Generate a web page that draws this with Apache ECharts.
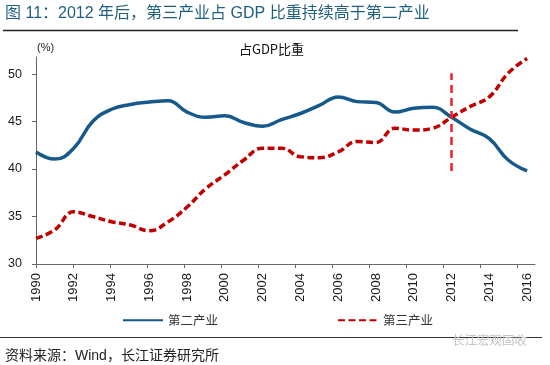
<!DOCTYPE html>
<html>
<head>
<meta charset="utf-8">
<script src="https://cdn.jsdelivr.net/npm/echarts@6/dist/echarts.min.js"></script>
<style>
html,body{margin:0;padding:0;background:#fff;}
#chart{width:550px;height:365px;}
</style>
</head>
<body>
<div id="chart"></div>
<script>
// ---- data ----
var years = [1990,1991,1992,1993,1994,1995,1996,1997,1998,1999,2000,2001,2002,2003,2004,2005,2006,2007,2008,2009,2010,2011,2012,2013,2014,2015,2016];
var secondary = [41.8,41.05,42.2,45.0,46.3,46.8,47.05,47.2,46.0,45.45,45.6,44.9,44.5,45.2,45.85,46.7,47.6,47.1,47.0,46.0,46.4,46.5,45.45,44.2,43.2,40.95,39.8];
var tertiary  = [32.7,33.6,35.5,35.0,34.45,34.1,33.5,34.45,36.0,37.95,39.4,40.95,42.2,42.2,41.3,41.2,41.8,42.9,42.8,44.3,44.1,44.3,45.45,46.6,47.6,50.1,51.65];
var xTickLabels = [1990,1992,1994,1996,1998,2000,2002,2004,2006,2008,2010,2012,2014,2016];
var yTickLabels = [30,35,40,45,50];
var seriesNames = ['第二产业','第三产业'];
var markYear = 2012;
var markRange = [39.8, 50.1];

function pairs(xs, ys){ return xs.map(function(x,i){ return [x, ys[i]]; }); }

var chart = echarts.init(document.getElementById('chart'));
var latin = '"Liberation Sans", Arial, "Noto Sans CJK SC", sans-serif';
var cjk = '"Noto Sans CJK SC", "Liberation Sans", sans-serif';

chart.setOption({
  animation: false,
  backgroundColor: '#fff',
  grid: { left: 36, right: 15, top: 57, bottom: 101, containLabel: false },
  xAxis: [
    {
      type: 'value', min: 1990, max: 2016.42, position: 'bottom',
      axisLine: { show: false }, axisTick: { show: false }, splitLine: { show: false },
      axisLabel: {
        customValues: xTickLabels, rotate: 90, margin: 9,
        color: '#1a1a1a', fontSize: 13, fontFamily: latin,
        formatter: function(v){ return String(v); }
      }
    },
    {
      type: 'value', min: 1990, max: 2016.956, position: 'bottom',
      axisLine: { show: true, onZero: false, lineStyle: { color: '#666', width: 1 } },
      axisTick: { show: true, customValues: xTickLabels, length: 4, lineStyle: { color: '#666' } },
      axisLabel: { show: false }, splitLine: { show: false }
    }
  ],
  yAxis: {
    type: 'value', min: 30, max: 51.8,
    axisLine: { show: true, lineStyle: { color: '#666', width: 1 } },
    axisTick: { show: true, customValues: yTickLabels, length: 4, lineStyle: { color: '#666' } },
    axisLabel: { customValues: yTickLabels, margin: 14, color: '#1a1a1a', fontSize: 12.5, fontFamily: latin },
    splitLine: { show: false }
  },
  legend: {
    left: 122, top: 314, padding: 0, itemWidth: 40, itemHeight: 14, itemGap: 119,
    itemStyle: { opacity: 0 },
    textStyle: { fontSize: 12.5, color: '#333', fontFamily: cjk },
    data: seriesNames
  },
  series: [
    {
      name: seriesNames[0], type: 'line', xAxisIndex: 0, smooth: 0.45, symbol: 'none',
      data: pairs(years, secondary),
      lineStyle: { color: '#16598a', width: 3.5 },
      itemStyle: { color: '#16598a' }
    },
    {
      name: seriesNames[1], type: 'line', xAxisIndex: 0, smooth: 0.45, symbol: 'none',
      data: pairs(years, tertiary),
      lineStyle: { color: '#c00000', width: 3.5, type: [7, 3.5] },
      itemStyle: { color: '#c00000' },
      markLine: {
        silent: true, symbol: 'none', label: { show: false },
        lineStyle: { color: '#ee2222', width: 2.5, type: [8, 5] },
        data: [[ { coord: [markYear, markRange[0]] }, { coord: [markYear, markRange[1]] } ]]
      }
    }
  ],
  graphic: [
    { type: 'text', style: { x: 5, y: 13.5, text: '图 11：2012 年后，第三产业占 GDP 比重持续高于第二产业',
      font: '16px ' + latin, fill: '#1f5f7f', verticalAlign: 'middle' } },
    { type: 'line', shape: { x1: 3, y1: 30.5, x2: 518, y2: 30.5 }, style: { stroke: '#222', lineWidth: 1.5 } },
    { type: 'text', style: { x: 37, y: 48, text: '(%)', font: '11px ' + latin, fill: '#222', verticalAlign: 'middle' } },
    { type: 'text', style: { x: 271.5, y: 49, text: '占GDP比重', font: '13px ' + cjk, fill: '#111', align: 'center', verticalAlign: 'middle' } },
    { type: 'line', shape: { x1: 0, y1: 337.5, x2: 542, y2: 337.5 }, style: { stroke: '#333', lineWidth: 1 } },
    { type: 'text', style: { x: 452, y: 340, text: '长江宏观固收', font: '12.5px ' + cjk, fill: '#c4c4c4', verticalAlign: 'middle' } },
    { type: 'text', style: { x: 5, y: 356, text: '资料来源：Wind，长江证券研究所', font: '14px ' + latin, fill: '#222', verticalAlign: 'middle' } }
  ]
});
</script>
</body>
</html>
